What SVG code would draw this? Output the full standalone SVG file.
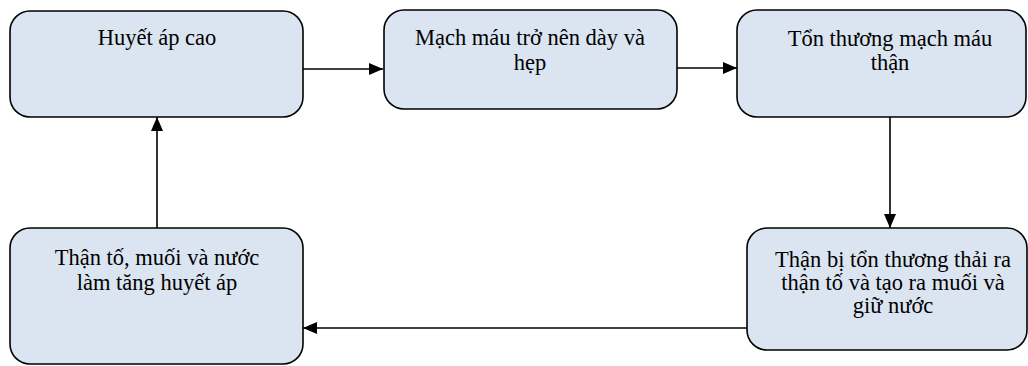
<svg xmlns="http://www.w3.org/2000/svg" width="1028" height="366" viewBox="0 0 1028 366">
<style>
.box{fill:#dbe5f1;stroke:#000;stroke-width:1.6}
.t{font-family:'Liberation Serif','Times New Roman',serif;font-size:22.5px;fill:#000;text-anchor:middle}
.c{stroke:#000;stroke-width:1.6;fill:none;marker-end:url(#ah)}
</style>
<defs>
<marker id="ah" viewBox="0 0 14 12" refX="14" refY="6" markerWidth="14" markerHeight="12" markerUnits="userSpaceOnUse" orient="auto">
<path d="M0,0 L14,6 L0,12 z" fill="#000"/>
</marker>
</defs>
<g id="connectors">
<path class="c" d="M303,69 L383,69"/>
<path class="c" d="M677,68 L737,68"/>
<path class="c" d="M890,117 L890,228"/>
<path class="c" d="M747,328 L303,328"/>
<path class="c" d="M157,228 L157,117"/>
</g>
<g id="n1">
<rect class="box" x="10" y="11" width="293" height="106" rx="20"/>
<text class="t" x="157" y="45">Huyết áp cao</text>
</g>
<g id="n2">
<rect class="box" x="384" y="10" width="293" height="99" rx="20"/>
<text class="t" x="530" y="45">Mạch máu trở nên dày và</text>
<text class="t" x="530" y="70">hẹp</text>
</g>
<g id="n3">
<rect class="box" x="737" y="10" width="289" height="107" rx="20"/>
<text class="t" x="890" y="46">Tổn thương mạch máu</text>
<text class="t" x="890" y="70">thận</text>
</g>
<g id="n4">
<rect class="box" x="747" y="228" width="280" height="122" rx="20"/>
<text class="t" x="893" y="267">Thận bị tổn thương thải ra</text>
<text class="t" x="893" y="290">thận tố và tạo ra muối và</text>
<text class="t" x="893" y="313">giữ nước</text>
</g>
<g id="n5">
<rect class="box" x="10" y="228" width="293" height="136" rx="20"/>
<text class="t" x="157" y="265">Thận tố, muối và nước</text>
<text class="t" x="157" y="290">làm tăng huyết áp</text>
</g>
</svg>
